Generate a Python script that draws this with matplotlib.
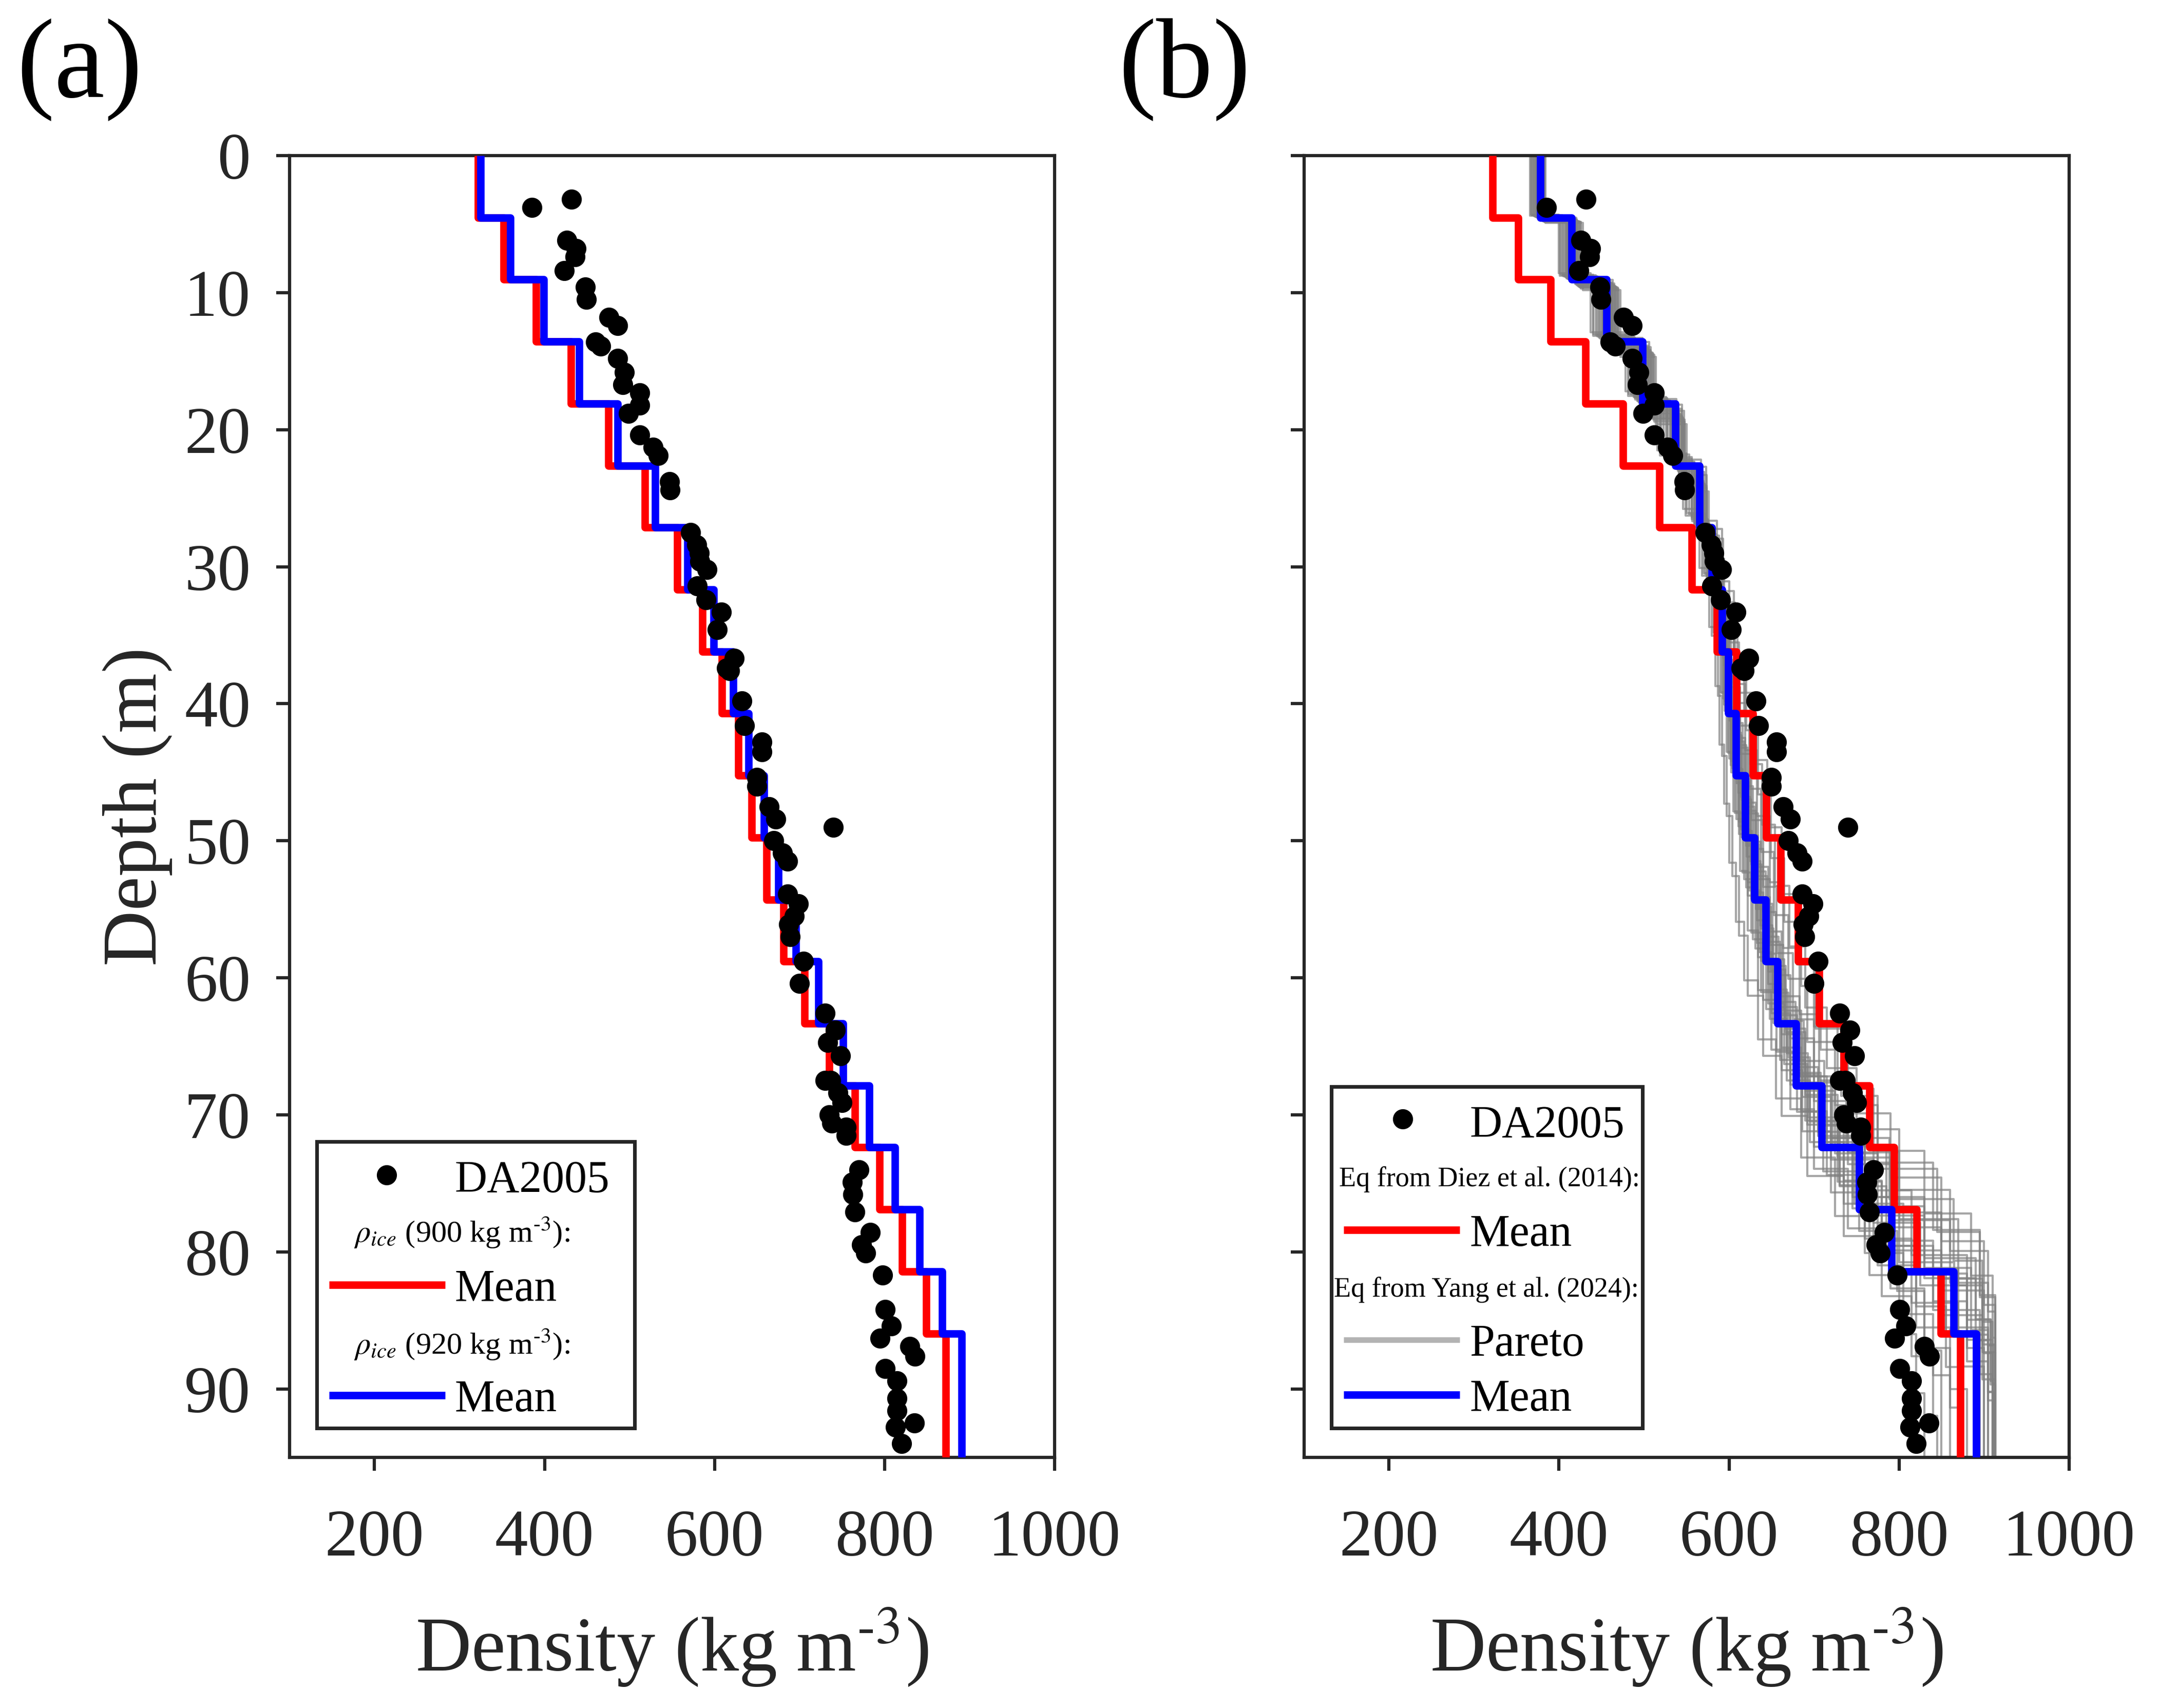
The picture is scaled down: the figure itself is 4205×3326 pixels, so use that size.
import numpy as np
import matplotlib
matplotlib.use("Agg")
import matplotlib.pyplot as plt
from matplotlib.patches import Rectangle

plt.rcParams["font.family"] = ["Liberation Serif", "DejaVu Serif"]
plt.rcParams["mathtext.fontset"] = "stix"

INK = "#262626"

# --------------------------------------------------------------------------- #
# data
# --------------------------------------------------------------------------- #
# layer edges (m) shared by the mean profiles
layer_edges = [0, 4.52, 9.05, 13.57, 18.10, 22.62, 27.14, 31.67, 36.19, 40.71,
               45.24, 49.76, 54.29, 58.81, 63.33, 67.86, 72.38, 76.90, 81.43,
               85.95, 95.0]

# (a) mean profiles for the two ice densities
rho900_mean = [322, 352, 390, 431, 475, 518, 556, 586, 609, 628,
               644, 661, 681, 706, 735, 765, 794, 821, 849, 872]
rho920_mean = [325, 360, 399, 441, 486, 530, 568, 599, 622, 640,
               658, 675, 696, 722, 751, 782, 812, 841, 868, 891]

# (b) mean profiles
diez_mean = [322, 352, 390, 431, 475, 518, 556, 586, 609, 628,
             644, 661, 681, 706, 735, 765, 794, 821, 849, 872]
yang_mean = [378, 415, 456, 498, 537, 565, 580, 592, 599, 608,
             619, 630, 643, 657, 679, 709, 753, 791, 864, 891]

# (b) Pareto members: layer thickness (m) and layer densities
pareto_thickness = [4.40, 4.60, 4.50, 4.70, 4.35, 4.55, 4.80, 4.45,
                    4.65, 4.30, 4.75, 4.52, 4.90, 4.58, 4.42, 4.68,
                    4.62, 4.85, 4.48, 4.36, 4.72, 4.57, 4.47, 4.78,
                    4.54, 4.66, 4.44, 4.38, 4.82, 4.51]
pareto_values = [
    [370, 405, 445, 488, 526, 556, 574, 586, 593, 600, 609, 618, 628, 640, 660, 690, 735, 780, 840, 880, 905, 905],
    [380, 418, 460, 502, 540, 567, 585, 597, 606, 616, 628, 640, 655, 672, 700, 740, 790, 850, 900, 910, 910],
    [374, 410, 452, 494, 532, 560, 577, 588, 595, 603, 612, 622, 634, 648, 668, 695, 735, 775, 820, 860, 880, 880],
    [378, 420, 463, 505, 542, 568, 584, 596, 605, 615, 626, 638, 652, 670, 695, 730, 785, 850, 898, 913, 913],
    [368, 402, 440, 482, 520, 550, 570, 582, 590, 597, 605, 613, 622, 634, 650, 672, 700, 740, 790, 830, 860, 870],
    [377, 416, 457, 499, 538, 566, 583, 595, 603, 613, 625, 637, 651, 667, 690, 725, 775, 830, 890, 905, 905],
    [382, 424, 468, 510, 546, 572, 588, 600, 610, 622, 634, 648, 664, 685, 715, 760, 820, 880, 910, 910],
    [372, 408, 448, 490, 528, 557, 575, 586, 594, 602, 611, 620, 631, 644, 662, 686, 720, 760, 805, 840, 860, 860],
    [379, 419, 461, 503, 541, 567, 583, 594, 602, 611, 621, 633, 646, 662, 685, 715, 760, 815, 870, 900, 900],
    [367, 400, 437, 478, 516, 546, 565, 577, 584, 589, 594, 600, 608, 618, 634, 655, 685, 725, 765, 800, 820, 830, 830],
    [381, 422, 466, 508, 545, 570, 586, 598, 607, 618, 630, 643, 658, 678, 705, 745, 800, 865, 905, 912],
    [375, 412, 453, 495, 534, 562, 579, 590, 597, 605, 615, 626, 638, 652, 672, 700, 745, 795, 855, 895, 895],
    [384, 428, 472, 514, 550, 576, 594, 610, 628, 645, 662, 680, 702, 732, 775, 840, 895, 913, 913, 913],
    [376, 415, 458, 500, 539, 566, 582, 593, 600, 609, 620, 632, 646, 662, 686, 720, 770, 825, 880, 900, 900],
    [371, 407, 447, 489, 527, 556, 575, 587, 595, 603, 612, 622, 633, 646, 665, 692, 730, 770, 820, 855, 875, 875],
    [379, 419, 462, 504, 541, 568, 584, 595, 604, 614, 625, 637, 651, 668, 693, 728, 780, 840, 895, 910, 910],
    [380, 419, 462, 505, 544, 571, 588, 600, 611, 624, 638, 653, 670, 692, 725, 775, 845, 895, 913, 913, 913],
    [383, 426, 470, 512, 548, 574, 590, 602, 613, 626, 640, 656, 675, 700, 740, 800, 870, 898, 913, 913],
    [373, 409, 450, 492, 531, 559, 577, 589, 597, 606, 616, 627, 640, 655, 680, 720, 789, 864, 898, 910, 913, 913],
    [369, 404, 443, 485, 523, 553, 572, 584, 592, 599, 607, 616, 626, 638, 656, 680, 711, 753, 798, 830, 850, 850],
    [378, 421, 465, 507, 544, 569, 585, 597, 607, 619, 632, 646, 662, 683, 712, 755, 815, 880, 908, 913, 913],
    [377, 415, 457, 499, 538, 565, 582, 594, 602, 612, 623, 635, 649, 666, 690, 728, 790, 860, 905, 912, 912],
    [373, 410, 451, 493, 531, 559, 577, 588, 596, 604, 614, 624, 636, 650, 672, 705, 760, 830, 890, 908, 910, 910],
    [381, 423, 467, 509, 546, 571, 587, 599, 609, 620, 632, 645, 660, 680, 708, 748, 805, 870, 905, 912],
    [380, 420, 463, 506, 545, 573, 592, 606, 618, 632, 647, 663, 680, 700, 728, 770, 830, 885, 910, 913, 913],
    [381, 421, 465, 508, 547, 574, 593, 607, 620, 634, 649, 665, 685, 708, 740, 790, 850, 900, 913, 913, 913],
    [376, 414, 456, 498, 538, 567, 586, 600, 612, 625, 639, 654, 671, 690, 715, 750, 800, 860, 905, 913, 913, 913],
    [366, 401, 440, 481, 519, 549, 568, 580, 587, 592, 597, 604, 612, 622, 640, 662, 692, 735, 780, 815, 840, 845],
    [383, 425, 469, 511, 548, 574, 592, 606, 619, 633, 648, 664, 683, 706, 738, 785, 850, 898, 913, 913],
    [375, 411, 452, 494, 533, 561, 578, 590, 599, 609, 621, 634, 648, 665, 688, 722, 770, 830, 885, 905, 910, 910],
]

# DA2005 core measurements
da_density = [385, 432, 426, 437, 436, 423, 448, 449, 476, 486, 460, 466, 486, 494,
              492, 512, 512, 499, 512, 528, 534, 547, 548, 572, 579, 582, 583, 591,
              580, 590, 608, 603, 623, 614, 618, 632, 635, 656, 656, 650, 650, 664,
              672, 740, 670, 680, 686, 686, 699, 694, 687, 689, 705, 700, 730, 742,
              733, 748, 730, 737, 745, 750, 735, 738, 755, 755, 770, 762, 763, 765,
              783, 773, 778, 798, 801, 808, 795, 830, 836, 801, 815, 815, 815, 813,
              835, 820]
da_depth = [3.8, 3.2, 6.2, 6.8, 7.4, 8.4, 9.6, 10.5, 11.8, 12.4, 13.6, 13.9, 14.8, 15.8,
            16.7, 17.3, 18.2, 18.8, 20.4, 21.3, 21.9, 23.8, 24.4, 27.5, 28.4, 29.0, 29.6, 30.2,
            31.4, 32.4, 33.3, 34.6, 36.7, 37.4, 37.6, 39.8, 41.6, 42.8, 43.5, 45.4, 46.0, 47.5,
            48.4, 49.0, 50.0, 50.9, 51.5, 53.9, 54.6, 55.5, 56.1, 57.0, 58.8, 60.4, 62.6, 63.8,
            64.7, 65.7, 67.5, 67.5, 68.4, 69.1, 70.0, 70.6, 70.9, 71.5, 74.0, 74.9, 75.8, 77.1,
            78.6, 79.5, 80.1, 81.7, 84.2, 85.4, 86.3, 86.9, 87.6, 88.5, 89.4, 90.7, 91.6, 92.8,
            92.5, 94.0]

# --------------------------------------------------------------------------- #
# styles
# --------------------------------------------------------------------------- #
MEAN_LW = 3.5
DOT_MS = 8.4
TICK_FS = 31
LABEL_FS = 36
LEG_FS = 21
HEAD_FS = 13
SUP = "$^{\u20103}$"  # superscript with a short hyphen


def style_axes(ax, show_ylabels=True):
    ax.set_xlim(100, 1000)
    ax.set_ylim(95, 0)
    ax.set_xticks([200, 400, 600, 800, 1000])
    ax.set_yticks(np.arange(0, 91, 10))
    for s in ax.spines.values():
        s.set_linewidth(1.5)
        s.set_color(INK)
    ax.tick_params(direction="out", length=6.2, width=1.5, colors=INK,
                   labelsize=TICK_FS, top=False, right=False)
    ax.tick_params(axis="x", pad=18)
    ax.tick_params(axis="y", pad=12, labelleft=show_ylabels)
    ax.set_xlabel("Density (kg m" + SUP + ")", fontsize=LABEL_FS, color=INK, va="baseline")
    ax.xaxis.set_label_coords(0.5, -0.1637)


def draw_profile(ax, values, edges, color, lw, alpha=1.0, z=3):
    ax.stairs(values, edges, orientation="horizontal", baseline=None,
              color=color, lw=lw, alpha=alpha, zorder=z, joinstyle="round")


def draw_dots(ax):
    ax.plot(da_density, da_depth, "o", color="black", ms=DOT_MS, mec="black",
            zorder=5, clip_on=True)


def legend_box(ax, x0, y0, w, h):
    ax.add_patch(Rectangle((x0, y0), w, h, transform=ax.transAxes, fc="white",
                           ec=INK, lw=1.7, zorder=8, clip_on=False))


def legend_line(ax, y, color, lw=MEAN_LW):
    ax.plot([0.0515, 0.2034], [y, y], transform=ax.transAxes, color=color,
            lw=lw, solid_capstyle="butt", zorder=9, clip_on=False)


def legend_text(ax, x, y, s, fs):
    ax.text(x, y, s, transform=ax.transAxes, fontsize=fs, va="baseline",
            ha="left", color="black", zorder=9)


fig = plt.figure(figsize=(4205 / 300, 3326 / 300), dpi=300)
ax_a = fig.add_axes([0.1341, 0.1467, 0.3543, 0.7622])
ax_b = fig.add_axes([0.6040, 0.1467, 0.3543, 0.7622])

# ---------------- (a) ----------------
draw_profile(ax_a, rho900_mean, layer_edges, "#ff0000", MEAN_LW)
draw_profile(ax_a, rho920_mean, layer_edges, "#0000ff", MEAN_LW)
draw_dots(ax_a)
style_axes(ax_a)
ax_a.set_ylabel("Depth (m)", fontsize=LABEL_FS, color=INK, va="center")
ax_a.yaxis.set_label_coords(-0.1987, 0.5)

legend_box(ax_a, 0.0356, 0.0225, 0.4154, 0.2201)
ax_a.plot([0.1268], [0.2170], "o", color="black", ms=DOT_MS,
          transform=ax_a.transAxes, zorder=9, clip_on=False)
legend_text(ax_a, 0.2161, 0.2043, "DA2005", LEG_FS)
legend_text(ax_a, 0.0839, 0.1657, r"$\rho_{ice}$ (900 kg m" + SUP + "):", 14.5)
legend_line(ax_a, 0.1326, "#ff0000")
legend_text(ax_a, 0.2161, 0.1202, "Mean", LEG_FS)
legend_text(ax_a, 0.0839, 0.0797, r"$\rho_{ice}$ (920 kg m" + SUP + "):", 14.5)
legend_line(ax_a, 0.0477, "#0000ff")
legend_text(ax_a, 0.2161, 0.0355, "Mean", LEG_FS)

# ---------------- (b) ----------------
for h, vals in zip(pareto_thickness, pareto_values):
    edges = h * np.arange(len(vals) + 1)
    draw_profile(ax_b, vals, edges, "#808080", 1.0, alpha=0.7, z=2)
draw_profile(ax_b, diez_mean, layer_edges, "#ff0000", MEAN_LW)
draw_profile(ax_b, yang_mean, layer_edges, "#0000ff", MEAN_LW)
draw_dots(ax_b)
style_axes(ax_b, show_ylabels=False)

legend_box(ax_b, 0.0356, 0.0225, 0.4067, 0.2623)
ax_b.plot([0.1289], [0.2600], "o", color="black", ms=DOT_MS,
          transform=ax_b.transAxes, zorder=9, clip_on=False)
legend_text(ax_b, 0.2168, 0.2465, "DA2005", LEG_FS)
legend_text(ax_b, 0.0456, 0.2083, "Eq from Diez et al. (2014):", HEAD_FS)
legend_line(ax_b, 0.1748, "#ff0000")
legend_text(ax_b, 0.2168, 0.1625, "Mean", LEG_FS)
legend_text(ax_b, 0.0389, 0.1235, "Eq from Yang et al. (2024):", HEAD_FS)
legend_line(ax_b, 0.0904, "#b3b3b3", lw=2.6)
legend_text(ax_b, 0.2168, 0.0781, "Pareto", LEG_FS)
legend_line(ax_b, 0.0481, "#0000ff")
legend_text(ax_b, 0.2168, 0.0359, "Mean", LEG_FS)

# panel letters
fig.text(32 / 4205, 1 - 189 / 3326, "(a)", fontsize=53, va="baseline", ha="left")
fig.text(2178 / 4205, 1 - 189 / 3326, "(b)", fontsize=53, va="baseline", ha="left")

fig.savefig("out.png", dpi=300)
